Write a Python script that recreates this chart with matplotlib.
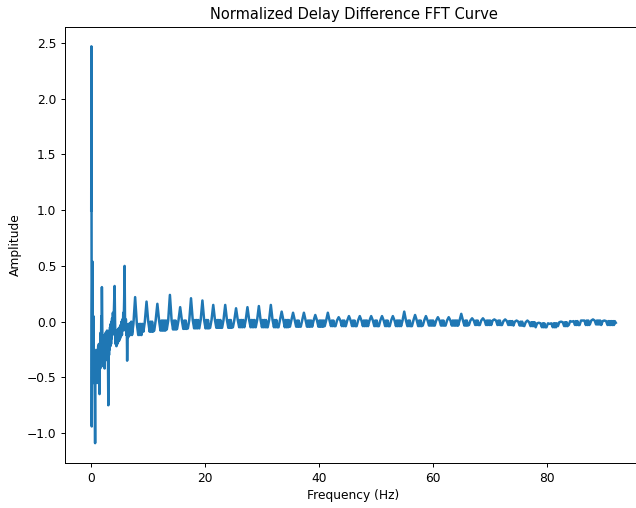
import numpy as np
import matplotlib
matplotlib.use("Agg")
import matplotlib.pyplot as plt

# first few Hz
early_hz = [0.00, 0.03, 0.06, 0.09, 0.14, 0.20, 0.26, 0.32, 0.38, 0.44, 0.50, 0.56,
            0.62, 0.68, 0.74, 0.80, 0.86, 0.92, 0.98, 1.04, 1.10, 1.16, 1.22, 1.28,
            1.34, 1.40, 1.46, 1.52, 1.58, 1.64, 1.70, 1.76, 1.82, 1.87, 1.93, 1.99,
            2.05, 2.11, 2.17, 2.23, 2.29, 2.35, 2.41, 2.47, 2.53, 2.59, 2.65, 2.71,
            2.77, 2.83, 2.89, 2.95, 3.00, 3.06, 3.12, 3.18, 3.24, 3.30, 3.36, 3.42,
            3.48, 3.54, 3.60, 3.66, 3.72, 3.80, 3.90, 4.00, 4.10, 4.18, 4.26, 4.34,
            4.42, 4.50, 4.58, 4.66, 4.74, 4.82, 4.90, 4.98, 5.06, 5.14, 5.22, 5.30,
            5.38, 5.46, 5.54, 5.62, 5.70, 5.78, 5.85, 5.92, 6.00, 6.08, 6.16, 6.24,
            6.30, 6.38, 6.46, 6.54, 6.62, 6.70, 6.78, 6.86, 6.94, 7.02, 7.10, 7.20]
early_amp = [1.00, 2.47, 0.75, -0.94, 0.00, 0.54, -0.20, -0.55, 0.05, -0.30, -0.55, -0.25,
             -0.60, -1.09, -0.30, -0.55, -0.28, -0.52, -0.30, -0.55, -0.25, -0.50, -0.22, -0.48,
             -0.20, -0.50, -0.65, -0.20, -0.42, -0.10, -0.35, 0.05, -0.20, 0.31, -0.05, -0.35,
             -0.15, -0.40, -0.15, -0.38, -0.12, -0.42, -0.15, -0.35, -0.10, -0.30, -0.10, -0.32,
             -0.08, -0.28, -0.10, -0.40, -0.75, -0.15, -0.30, -0.08, -0.25, -0.05, -0.22, -0.02,
             -0.20, 0.00, -0.15, 0.03, -0.12, 0.08, -0.05, 0.12, 0.32, 0.00, -0.20, -0.08,
             -0.22, -0.08, -0.20, -0.07, -0.18, -0.06, -0.17, -0.05, -0.15, -0.03, -0.13, 0.00,
             -0.12, 0.02, -0.08, 0.08, 0.00, 0.20, 0.50, 0.05, -0.08, 0.02, -0.12, -0.03,
             -0.35, -0.03, -0.14, -0.02, -0.13, -0.02, -0.12, -0.01, -0.11, 0.00, -0.10, -0.02]

# periodic part: one harmonic peak about every 2 Hz
peak_hz = [7.7, 9.7, 11.6, 13.8, 15.6, 17.5, 19.5, 21.4, 23.5, 25.4, 27.4, 29.4, 31.5,
           33.4, 35.4, 37.3, 39.3, 41.5, 43.4, 45.2, 47.1, 49.1, 51.0, 52.9, 54.9, 56.8,
           58.7, 60.8, 62.7, 64.9, 66.8, 68.7, 70.7, 72.6, 74.6, 76.5, 78.5, 80.4, 82.4,
           84.3, 86.2, 88.0, 90.0]
peak_amp = [0.22, 0.18, 0.16, 0.24, 0.13, 0.21, 0.19, 0.15, 0.15, 0.12, 0.13, 0.14, 0.15,
            0.09, 0.08, 0.08, 0.06, 0.08, 0.04, 0.05, 0.05, 0.05, 0.05, 0.05, 0.09, 0.06,
            0.05, 0.04, 0.04, 0.07, 0.03, 0.03, 0.02, 0.02, 0.01, 0.01, -0.01, -0.02, 0.00,
            0.00, 0.01, 0.02, 0.01]
band_lo = [-0.12, -0.09, -0.08, -0.07, -0.065, -0.06, -0.06, -0.055, -0.055, -0.05, -0.05, -0.05, -0.05,
           -0.05, -0.045, -0.045, -0.045, -0.04, -0.04, -0.04, -0.04, -0.04, -0.04, -0.04, -0.04, -0.04,
           -0.035, -0.035, -0.035, -0.035, -0.03, -0.03, -0.03, -0.03, -0.035, -0.04, -0.05, -0.05, -0.04,
           -0.03, -0.03, -0.025, -0.03]
band_hi = [-0.02, 0.00, 0.01, 0.01, 0.01, 0.015, 0.015, 0.015, 0.015, 0.015, 0.015, 0.015, 0.015,
           0.015, 0.01, 0.01, 0.01, 0.01, 0.01, 0.01, 0.01, 0.01, 0.01, 0.01, 0.01, 0.01,
           0.01, 0.01, 0.01, 0.01, 0.01, 0.01, 0.01, 0.005, 0.0, -0.005, -0.015, -0.015, -0.005,
           0.005, 0.01, 0.01, 0.005]
end_hz = 92.0
end_amp = -0.01

freq = list(early_hz)
amp = list(early_amp)
for i in range(len(peak_hz)):
    pk, pa, lo, hi = peak_hz[i], peak_amp[i], band_lo[i], band_hi[i]
    freq += [pk - 0.55, pk - 0.3, pk, pk + 0.3, pk + 0.55]
    amp += [lo, hi, pa, hi, lo]
    nxt = peak_hz[i + 1] - 0.55 if i + 1 < len(peak_hz) else end_hz
    xs = np.arange(pk + 0.7, nxt - 0.1, 0.14)
    freq += list(xs)
    amp += [hi if k % 2 == 0 else lo for k in range(len(xs))]
freq.append(end_hz)
amp.append(end_amp)

# reference looks like a default figure shrunk to ~0.88
s = 0.88
plt.rcParams.update({
    "font.size": 10 * s,
    "axes.linewidth": 0.8 * s,
    "xtick.major.size": 3.5 * s, "ytick.major.size": 3.5 * s,
    "xtick.major.width": 0.8 * s, "ytick.major.width": 0.8 * s,
    "xtick.major.pad": 3.5 * s, "ytick.major.pad": 3.5 * s,
    "axes.titlepad": 6 * s, "axes.labelpad": 4 * s,
})

fig = plt.figure(figsize=(6.36, 5.08), dpi=100)
ax = fig.add_axes([65 / 636, 45 / 508, 577 / 636, 436.5 / 508])
ax.plot(freq, amp, color="#1f77b4", linewidth=1.8)
ax.set_title("Normalized Delay Difference FFT Curve")
ax.set_xlabel("Frequency (Hz)")
ax.set_ylabel("Amplitude")
fig.savefig("out.png", dpi=100)
